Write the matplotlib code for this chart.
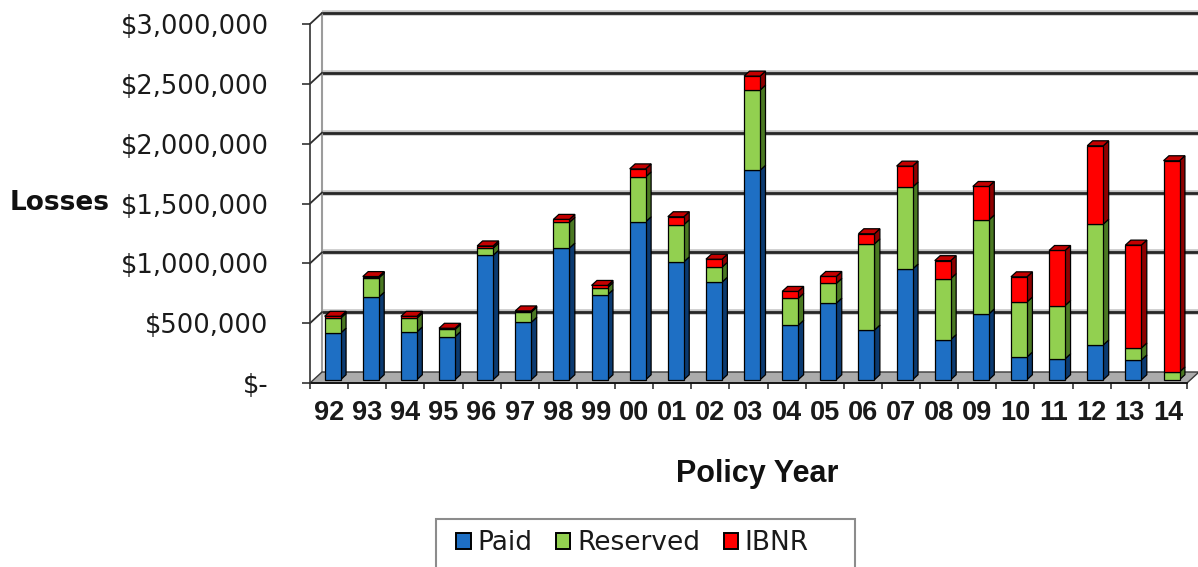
import matplotlib
matplotlib.use("Agg")
import matplotlib.pyplot as plt
from matplotlib.patches import Polygon, Rectangle, Patch
from matplotlib.ticker import FixedLocator, FuncFormatter

# losses by policy year, in dollars
years = ["92", "93", "94", "95", "96", "97", "98", "99", "00", "01", "02", "03",
         "04", "05", "06", "07", "08", "09", "10", "11", "12", "13", "14"]
paid = [390_000, 690_000, 400_000, 360_000, 1_040_000, 480_000, 1_100_000, 710_000,
        1_320_000, 985_000, 815_000, 1_750_000, 455_000, 640_000, 415_000, 925_000,
        335_000, 550_000, 190_000, 175_000, 290_000, 165_000, 0]
reserved = [125_000, 160_000, 115_000, 60_000, 60_000, 85_000, 215_000, 60_000,
            375_000, 310_000, 125_000, 670_000, 225_000, 165_000, 720_000, 685_000,
            510_000, 785_000, 460_000, 445_000, 1_010_000, 100_000, 65_000]
ibnr = [15_000, 12_000, 15_000, 10_000, 18_000, 10_000, 25_000, 18_000,
        67_000, 67_000, 67_000, 117_000, 58_000, 58_000, 85_000, 175_000,
        150_000, 280_000, 210_000, 460_000, 655_000, 860_000, 1_765_000]

series_names = ["Paid", "Reserved", "IBNR"]
series_values = [paid, reserved, ibnr]
front_colors = ["#1E6FC4", "#92D050", "#FF0000"]
side_colors = ["#0B3A70", "#4A7822", "#8E0000"]
top_colors = ["#2C62A6", "#74A83C", "#C40000"]

W, H = 1198, 567
fig = plt.figure(figsize=(W / 100, H / 100), dpi=100)

# front plane of the pseudo-3D plot, in pixels
ax_left, ax_right, ax_top, ax_bottom = 310, 1187, 24, 383
ax = fig.add_axes([ax_left / W, 1 - ax_bottom / H,
                   (ax_right - ax_left) / W, (ax_bottom - ax_top) / H])
ax.patch.set_visible(False)

n = len(years)
ymax = 3_000_000
yticks = list(range(0, ymax + 1, 500_000))
ax.set_xlim(0, n)
ax.set_ylim(0, ymax)

px_x = (ax_right - ax_left) / n
px_y = (ax_bottom - ax_top) / ymax
DX = 12 / px_x       # depth of the chart box
DY = 11 / px_y

# floor
floor = Polygon([(0, 0), (n, 0), (n + DX, DY), (DX, DY)], closed=True,
                fc="#ABABAB", ec="#3A3A3A", lw=1.0, clip_on=False, zorder=1)
ax.add_patch(floor)

# back wall gridlines and side wall
for v in yticks[1:]:
    ax.plot([DX, n + DX + 0.3], [v + DY, v + DY], color="#C4C4C4", lw=4.0,
            clip_on=False, zorder=0.4, solid_capstyle="butt")
    ax.plot([DX, n + DX + 0.3], [v + DY, v + DY], color="#262626", lw=2.0,
            clip_on=False, zorder=0.5, solid_capstyle="butt")
    ax.plot([0, DX], [v, v + DY], color="#2E2E2E", lw=1.3, clip_on=False, zorder=0.6)
ax.plot([DX, DX], [DY, ymax + DY], color="#9C9C9C", lw=1.5, clip_on=False, zorder=0.5)

# stacked 3D-looking bars
bar_w = 16 / px_x
f0, f1 = 0.3, 0.75
fx0, fy0 = f0 * DX, f0 * DY
ddx, ddy = (f1 - f0) * DX, (f1 - f0) * DY
edge = dict(ec="black", lw=0.9, clip_on=False)

for i in range(n):
    xl = i + 0.5 - bar_w / 2 + fx0
    xr = xl + bar_w
    bottom = 0
    top_k = max(k for k in range(3) if series_values[k][i] > 0)
    for k in range(3):
        h = series_values[k][i]
        if h <= 0:
            continue
        b = bottom + fy0
        t = bottom + h + fy0
        ax.add_patch(Polygon([(xr, b), (xr + ddx, b + ddy), (xr + ddx, t + ddy), (xr, t)],
                             closed=True, fc=side_colors[k], zorder=3, **edge))
        ax.add_patch(Polygon([(xl, b), (xr, b), (xr, t), (xl, t)],
                             closed=True, fc=front_colors[k], zorder=3, **edge))
        if k == top_k:
            ax.add_patch(Polygon([(xl, t), (xr, t), (xr + ddx, t + ddy), (xl + ddx, t + ddy)],
                                 closed=True, fc=top_colors[k], zorder=3, **edge))
        bottom += h

# axes and ticks
for side in ["top", "right"]:
    ax.spines[side].set_visible(False)
ax.spines["left"].set_color("#333333")
ax.spines["left"].set_linewidth(1.2)
ax.spines["bottom"].set_color("#111111")
ax.spines["bottom"].set_linewidth(1.3)
ax.spines["bottom"].set_zorder(2)

ax.yaxis.set_major_locator(FixedLocator(yticks))
ax.yaxis.set_major_formatter(FuncFormatter(lambda v, pos: "$-" if v == 0 else f"${v:,.0f}"))
ax.tick_params(axis="y", direction="out", length=5.8, width=1.2, color="#333333",
               pad=24, labelsize=18.5, labelfontfamily="DejaVu Sans", labelcolor="#1A1A1A")

ax.set_xticks(range(n + 1))
ax.set_xticklabels([])
ax.set_xticks([i + 0.5 for i in range(n)], years, minor=True,
              fontsize=19.5, fontweight="bold", family="Liberation Sans", color="#1A1A1A")
ax.tick_params(axis="x", which="major", direction="out", length=4.3, width=1.2, color="#333333")
ax.tick_params(axis="x", which="minor", length=0, pad=12)

fig.text(757 / W, 1 - 482 / H, "Policy Year", ha="center", va="baseline",
         fontsize=22, fontweight="bold", family="Liberation Sans", color="#111111")
fig.text(10 / W, 1 - 210 / H, "Losses", ha="left", va="baseline",
         fontsize=19, fontweight="bold", family="DejaVu Sans", color="#111111")

# legend below the chart
handles = [Patch(fc=c, ec="black", lw=1.4) for c in front_colors]
fig.legend(handles, series_names, loc="center left", bbox_to_anchor=(456 / W, 1 - 543 / H),
           ncol=3, frameon=False, prop={"family": "DejaVu Sans", "size": 19},
           handlelength=0.55, handleheight=0.55, handletextpad=0.25,
           columnspacing=0.9, borderpad=0, borderaxespad=0, labelcolor="#1A1A1A")
fig.add_artist(Rectangle((436 / W, 1 - 620 / H), (855 - 436) / W, (620 - 519) / H,
                         transform=fig.transFigure, fill=False, ec="#8C8C8C", lw=1.5))

fig.savefig("out.png", dpi=100)
